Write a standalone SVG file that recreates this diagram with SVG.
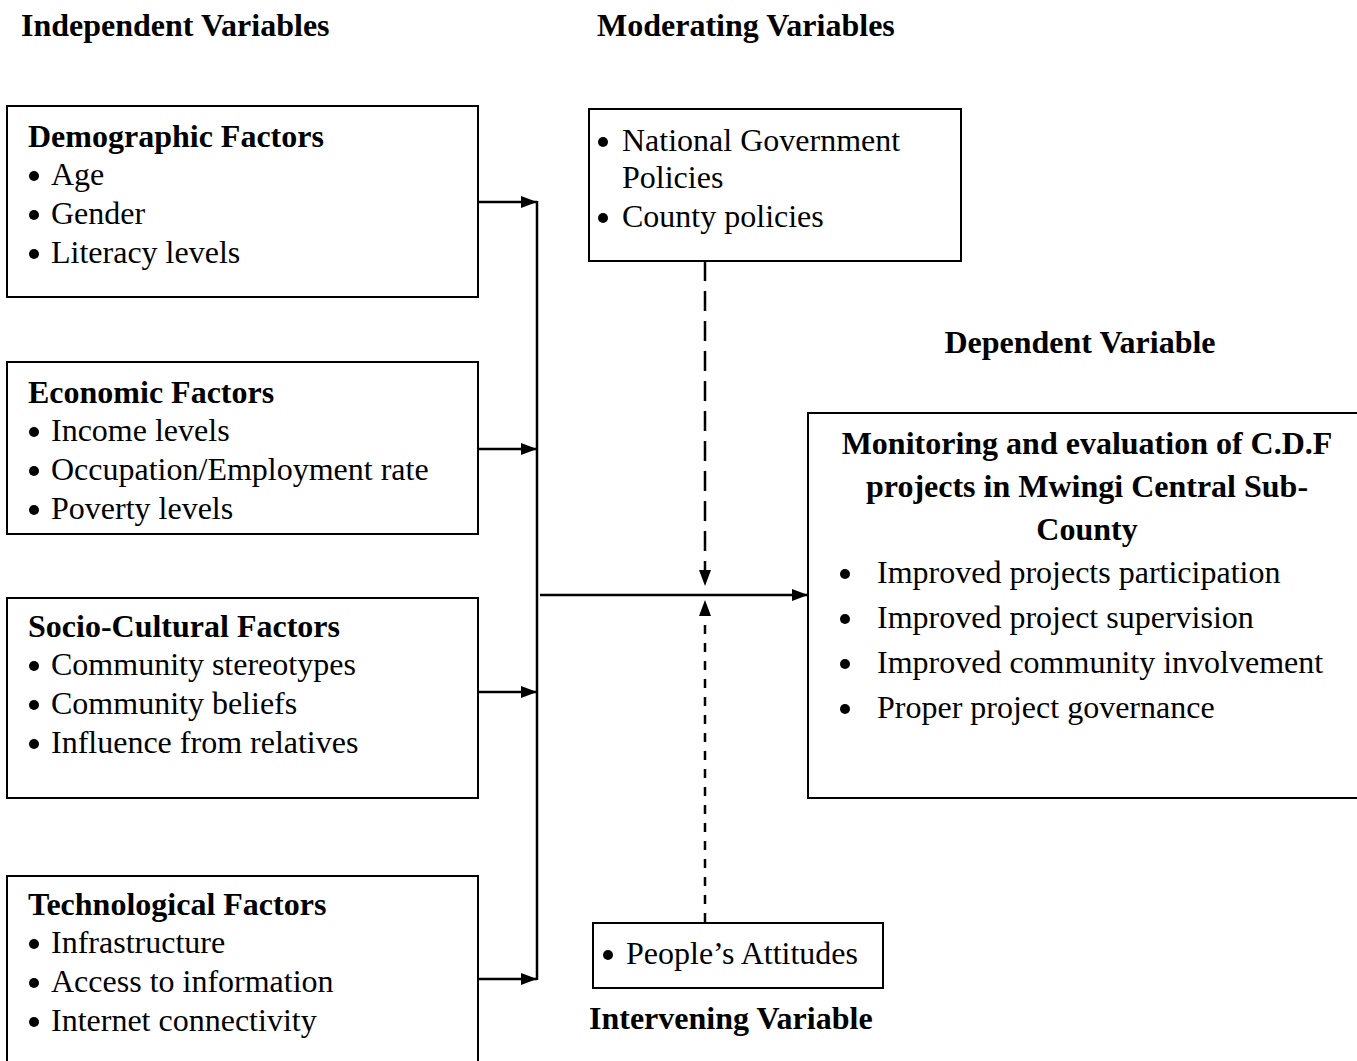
<svg xmlns="http://www.w3.org/2000/svg" width="1357" height="1061" viewBox="0 0 1357 1061">
<style>
text{font-family:"Liberation Serif","Times New Roman",serif;fill:#000;font-size:32px}
.b{font-weight:bold}
.box{fill:#fff;stroke:#000;stroke-width:2}
.ln{stroke:#000;stroke-width:2.5;fill:none}
.dot{fill:#000}
</style>
<defs>
<marker id="ah" markerWidth="16" markerHeight="12" refX="16" refY="6" orient="auto" markerUnits="userSpaceOnUse">
<path d="M0,0 L16,6 L0,12 Z" fill="#000"/>
</marker>
</defs>
<rect width="1357" height="1061" fill="#fff"/>
<text class="b" x="21" y="36">Independent Variables</text>
<text class="b" x="597" y="36">Moderating Variables</text>
<text class="b" x="1080" y="353" text-anchor="middle">Dependent Variable</text>
<text class="b" x="589" y="1029">Intervening Variable</text>

<g id="demographic">
<rect class="box" x="7" y="106" width="471" height="191"/>
<text class="b" x="28" y="147">Demographic Factors</text>
<circle class="dot" cx="34" cy="176" r="5"/><text x="51" y="185">Age</text>
<circle class="dot" cx="34" cy="215" r="5"/><text x="51" y="224">Gender</text>
<circle class="dot" cx="34" cy="254" r="5"/><text x="51" y="263">Literacy levels</text>
</g>
<g id="economic">
<rect class="box" x="7" y="362" width="471" height="172"/>
<text class="b" x="28" y="403">Economic Factors</text>
<circle class="dot" cx="34" cy="432" r="5"/><text x="51" y="441">Income levels</text>
<circle class="dot" cx="34" cy="471" r="5"/><text x="51" y="480">Occupation/Employment rate</text>
<circle class="dot" cx="34" cy="510" r="5"/><text x="51" y="519">Poverty levels</text>
</g>
<g id="sociocultural">
<rect class="box" x="7" y="598" width="471" height="200"/>
<text class="b" x="28" y="637">Socio-Cultural Factors</text>
<circle class="dot" cx="34" cy="666" r="5"/><text x="51" y="675">Community stereotypes</text>
<circle class="dot" cx="34" cy="705" r="5"/><text x="51" y="714">Community beliefs</text>
<circle class="dot" cx="34" cy="744" r="5"/><text x="51" y="753">Influence from relatives</text>
</g>
<g id="technological">
<rect class="box" x="7" y="876" width="471" height="200"/>
<text class="b" x="28" y="915">Technological Factors</text>
<circle class="dot" cx="34" cy="944" r="5"/><text x="51" y="953">Infrastructure</text>
<circle class="dot" cx="34" cy="983" r="5"/><text x="51" y="992">Access to information</text>
<circle class="dot" cx="34" cy="1022" r="5"/><text x="51" y="1031">Internet connectivity</text>
</g>
<g id="moderating">
<rect class="box" x="589" y="109" width="372" height="152"/>
<circle class="dot" cx="603" cy="142" r="5"/><text x="622" y="151">National Government</text>
<text x="622" y="188">Policies</text>
<circle class="dot" cx="603" cy="218" r="5"/><text x="622" y="227">County policies</text>
</g>
<g id="dependent">
<rect class="box" x="808" y="413" width="560" height="385"/>
<text class="b" x="1087" y="454" text-anchor="middle">Monitoring and evaluation of C.D.F</text>
<text class="b" x="1087" y="497" text-anchor="middle">projects in Mwingi Central Sub-</text>
<text class="b" x="1087" y="540" text-anchor="middle">County</text>
<circle class="dot" cx="845" cy="574" r="5"/><text x="877" y="583">Improved projects participation</text>
<circle class="dot" cx="845" cy="619" r="5"/><text x="877" y="628">Improved project supervision</text>
<circle class="dot" cx="845" cy="664" r="5"/><text x="877" y="673">Improved community involvement</text>
<circle class="dot" cx="845" cy="709" r="5"/><text x="877" y="718">Proper project governance</text>
</g>
<g id="intervening">
<rect class="box" x="593" y="923" width="290" height="65"/>
<circle class="dot" cx="608" cy="955" r="5"/><text x="626" y="964">People’s Attitudes</text>
</g>

<g id="connectors">
<line class="ln" x1="478" y1="202" x2="537" y2="202" marker-end="url(#ah)"/>
<line class="ln" x1="478" y1="449" x2="537" y2="449" marker-end="url(#ah)"/>
<line class="ln" x1="478" y1="692" x2="537" y2="692" marker-end="url(#ah)"/>
<line class="ln" x1="478" y1="979" x2="537" y2="979" marker-end="url(#ah)"/>
<line class="ln" x1="537" y1="201" x2="537" y2="980"/>
<line class="ln" x1="540" y1="595" x2="808" y2="595" marker-end="url(#ah)"/>
<line class="ln" x1="705" y1="261" x2="705" y2="586" stroke-dasharray="20 10" marker-end="url(#ah)"/>
<line class="ln" x1="705" y1="922" x2="705" y2="600" stroke-width="3" stroke-dasharray="9 9" marker-end="url(#ah)"/>
</g>
</svg>
